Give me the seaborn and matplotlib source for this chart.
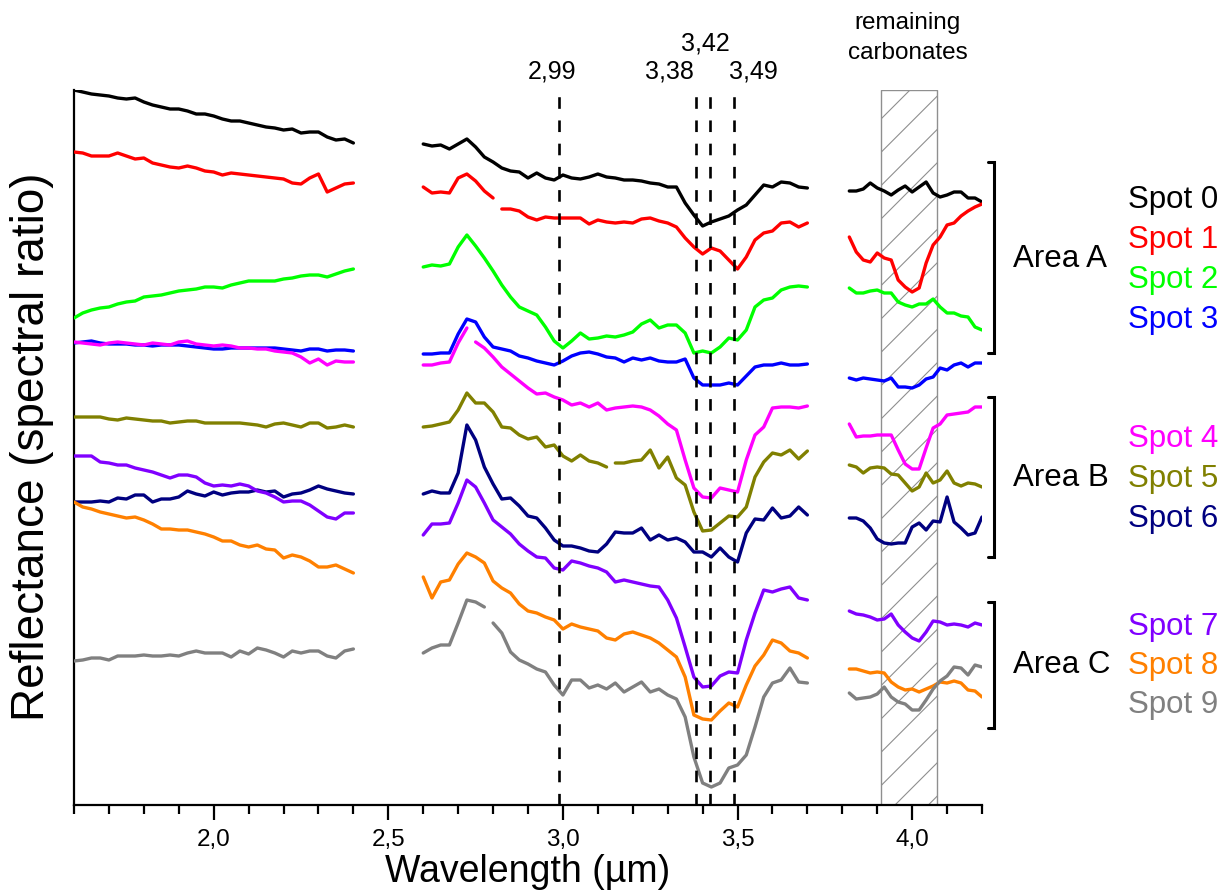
import numpy as np
import pandas as pd
import matplotlib
matplotlib.use("Agg")
import matplotlib.pyplot as plt
from matplotlib.lines import Line2D
from matplotlib.ticker import MultipleLocator, FixedLocator, FixedFormatter
import seaborn as sns

sns.set_theme(style="white")
plt.rcParams['font.family'] = ['Liberation Sans', 'DejaVu Sans']
plt.rcParams['hatch.linewidth'] = 0.8

# ---------------- data ----------------
W_LEFT = np.round(np.linspace(1.60, 2.40, 33), 3)
W_MID = np.round(np.linspace(2.60, 3.70, 45), 3)
W_RIGHT = np.round(np.linspace(3.82, 4.20, 20), 3)

SPOTS = ["Spot 0", "Spot 1", "Spot 2", "Spot 3", "Spot 4",
         "Spot 5", "Spot 6", "Spot 7", "Spot 8", "Spot 9"]
COLORS = ["#000000", "#ff0000", "#00ff00", "#0000ff", "#ff00ff",
          "#808000", "#000080", "#8000ff", "#ff8000", "#808080"]

spot0_left = [7.15,7.13,7.11,7.10,7.09,7.07,7.06,7.07,7.03,7.00,6.98,6.96,6.96,6.94,6.91,6.91,6.89,6.86,6.84,6.84,6.82,6.80,6.78,6.77,6.75,6.76,6.72,6.73,6.73,6.68,6.65,6.66,6.62]
spot1_left = [6.53,6.52,6.49,6.49,6.49,6.52,6.49,6.46,6.47,6.42,6.40,6.38,6.37,6.39,6.37,6.34,6.33,6.30,6.32,6.31,6.30,6.29,6.28,6.27,6.26,6.22,6.21,6.27,6.31,6.13,6.17,6.21,6.22]
spot2_left = [4.87,4.92,4.95,4.97,4.98,5.01,5.03,5.04,5.08,5.09,5.10,5.12,5.14,5.15,5.16,5.18,5.18,5.17,5.20,5.22,5.24,5.24,5.24,5.24,5.26,5.27,5.29,5.30,5.30,5.28,5.31,5.34,5.36]
spot3_left = [4.62,4.63,4.64,4.62,4.61,4.61,4.61,4.60,4.60,4.59,4.60,4.60,4.60,4.59,4.58,4.57,4.56,4.56,4.57,4.57,4.57,4.57,4.57,4.57,4.56,4.55,4.54,4.56,4.56,4.54,4.55,4.55,4.54]
spot4_left = [4.63,4.62,4.61,4.60,4.62,4.63,4.62,4.61,4.60,4.62,4.61,4.60,4.63,4.64,4.61,4.60,4.59,4.60,4.59,4.57,4.57,4.56,4.56,4.54,4.53,4.52,4.48,4.42,4.46,4.40,4.44,4.43,4.43]
spot5_left = [3.88,3.88,3.88,3.88,3.86,3.85,3.87,3.86,3.85,3.84,3.84,3.82,3.83,3.84,3.84,3.82,3.82,3.82,3.82,3.82,3.81,3.80,3.78,3.81,3.82,3.80,3.78,3.82,3.82,3.77,3.78,3.80,3.78]
spot6_left = [3.03,3.03,3.03,3.04,3.03,3.07,3.06,3.10,3.10,3.03,3.06,3.06,3.08,3.14,3.11,3.09,3.13,3.10,3.12,3.13,3.13,3.15,3.13,3.14,3.08,3.11,3.12,3.15,3.19,3.16,3.14,3.12,3.11]
spot7_left = [3.49,3.49,3.49,3.43,3.42,3.40,3.40,3.37,3.35,3.33,3.30,3.27,3.30,3.30,3.28,3.22,3.19,3.20,3.19,3.21,3.19,3.14,3.12,3.08,3.03,3.04,3.04,3.00,2.94,2.88,2.86,2.92,2.92]
spot8_left = [3.03,2.98,2.96,2.93,2.91,2.89,2.87,2.88,2.85,2.81,2.76,2.76,2.75,2.75,2.73,2.71,2.68,2.64,2.64,2.60,2.58,2.60,2.56,2.55,2.47,2.50,2.48,2.44,2.38,2.38,2.40,2.36,2.32]
spot9_left = [1.44,1.45,1.47,1.47,1.45,1.49,1.49,1.49,1.50,1.49,1.49,1.50,1.49,1.52,1.54,1.52,1.52,1.52,1.48,1.54,1.51,1.57,1.55,1.52,1.48,1.54,1.52,1.54,1.54,1.49,1.47,1.54,1.56]

spot0_mid = [6.61,6.59,6.60,6.56,6.61,6.66,6.58,6.48,6.43,6.37,6.34,6.33,6.27,6.32,6.27,6.25,6.30,6.27,6.26,6.28,6.31,6.28,6.27,6.25,6.25,6.24,6.22,6.21,6.18,6.18,6.02,5.90,5.79,5.83,5.86,5.89,5.95,6.00,6.10,6.20,6.18,6.23,6.22,6.18,6.17]
spot1_mid = [6.18,6.12,6.13,6.12,6.27,6.31,6.24,6.14,6.07,5.96,5.96,5.94,5.88,5.85,5.88,5.87,5.87,5.87,5.87,5.81,5.85,5.83,5.82,5.83,5.82,5.86,5.87,5.84,5.82,5.78,5.67,5.58,5.51,5.57,5.54,5.45,5.36,5.48,5.65,5.72,5.74,5.82,5.83,5.78,5.82]
spot2_mid = [5.38,5.40,5.39,5.41,5.58,5.70,5.59,5.47,5.34,5.20,5.08,4.98,4.94,4.90,4.78,4.64,4.57,4.64,4.72,4.66,4.67,4.69,4.68,4.70,4.73,4.81,4.85,4.77,4.80,4.80,4.72,4.52,4.54,4.52,4.58,4.67,4.65,4.75,4.98,5.05,5.07,5.15,5.18,5.19,5.18]
spot3_mid = [4.51,4.51,4.52,4.52,4.71,4.86,4.83,4.68,4.58,4.56,4.54,4.49,4.47,4.44,4.42,4.40,4.44,4.49,4.52,4.53,4.51,4.48,4.47,4.43,4.47,4.45,4.47,4.44,4.43,4.43,4.46,4.27,4.20,4.20,4.20,4.22,4.20,4.29,4.38,4.40,4.40,4.42,4.40,4.40,4.41]
spot4_mid = [4.40,4.40,4.42,4.43,4.62,4.77,4.63,4.57,4.48,4.38,4.31,4.24,4.17,4.11,4.12,4.08,4.05,4.00,4.02,3.98,4.02,3.95,3.97,3.98,3.99,3.98,3.95,3.89,3.81,3.75,3.45,3.17,3.08,3.07,3.17,3.15,3.13,3.45,3.70,3.78,3.97,3.98,3.98,3.97,3.99]
spot5_mid = [3.78,3.79,3.81,3.83,3.95,4.12,4.02,4.02,3.93,3.78,3.77,3.70,3.66,3.68,3.58,3.60,3.49,3.44,3.50,3.44,3.42,3.38,3.42,3.42,3.44,3.45,3.55,3.37,3.48,3.27,3.20,2.93,2.74,2.75,2.82,2.89,2.88,2.98,3.28,3.43,3.52,3.50,3.55,3.46,3.54]
spot6_mid = [3.11,3.14,3.12,3.12,3.32,3.80,3.65,3.38,3.21,3.06,3.07,2.99,2.89,2.87,2.77,2.65,2.59,2.59,2.57,2.54,2.53,2.61,2.73,2.72,2.72,2.77,2.65,2.70,2.65,2.67,2.63,2.53,2.53,2.48,2.57,2.48,2.43,2.72,2.86,2.85,2.97,2.87,2.89,2.98,2.90]
spot7_mid = [2.70,2.81,2.81,2.82,3.02,3.25,3.18,3.02,2.85,2.78,2.71,2.61,2.54,2.48,2.47,2.37,2.35,2.44,2.42,2.39,2.37,2.33,2.23,2.25,2.23,2.21,2.19,2.18,2.05,1.87,1.58,1.28,1.18,1.19,1.29,1.33,1.32,1.65,1.92,2.15,2.13,2.16,2.18,2.07,2.05]
spot8_mid = [2.28,2.07,2.23,2.25,2.41,2.52,2.48,2.42,2.24,2.17,2.12,2.01,1.94,1.92,1.88,1.85,1.76,1.81,1.78,1.76,1.74,1.67,1.65,1.71,1.73,1.70,1.67,1.62,1.55,1.48,1.28,0.90,0.86,0.85,0.94,1.02,0.98,1.20,1.39,1.50,1.65,1.62,1.54,1.52,1.47]
spot9_mid = [1.52,1.57,1.60,1.60,1.82,2.05,2.03,1.98,1.82,1.72,1.53,1.45,1.41,1.36,1.33,1.20,1.10,1.25,1.25,1.17,1.20,1.16,1.22,1.13,1.18,1.23,1.13,1.16,1.10,1.06,0.88,0.48,0.22,0.18,0.22,0.37,0.40,0.50,0.78,1.08,1.22,1.25,1.37,1.23,1.22]

spot0_right = [6.14,6.14,6.16,6.22,6.17,6.14,6.10,6.15,6.19,6.13,6.18,6.23,6.12,6.08,6.10,6.13,6.13,6.07,6.07,6.03]
spot1_right = [5.68,5.53,5.45,5.43,5.52,5.47,5.45,5.25,5.18,5.13,5.17,5.42,5.60,5.68,5.80,5.82,5.89,5.94,5.98,6.01]
spot2_right = [5.17,5.12,5.12,5.14,5.15,5.12,5.12,5.03,5.00,4.98,5.01,5.01,5.06,4.98,4.92,4.92,4.89,4.88,4.78,4.75]
spot3_right = [4.27,4.25,4.27,4.26,4.25,4.24,4.27,4.18,4.18,4.17,4.20,4.26,4.28,4.37,4.35,4.40,4.42,4.38,4.42,4.42]
spot4_right = [3.81,3.68,3.69,3.69,3.70,3.70,3.70,3.55,3.41,3.36,3.36,3.57,3.77,3.81,3.90,3.91,3.92,3.93,3.98,3.98]
spot5_right = [3.40,3.38,3.32,3.37,3.38,3.37,3.31,3.30,3.22,3.14,3.18,3.32,3.22,3.25,3.34,3.22,3.19,3.22,3.21,3.18]
spot6_right = [2.87,2.87,2.84,2.77,2.66,2.62,2.61,2.62,2.62,2.78,2.82,2.75,2.84,2.83,3.08,2.83,2.77,2.70,2.72,2.88]
spot7_right = [1.94,1.91,1.90,1.88,1.85,1.86,1.91,1.80,1.73,1.67,1.64,1.73,1.84,1.83,1.80,1.81,1.80,1.78,1.82,1.80]
spot8_right = [1.36,1.36,1.34,1.32,1.33,1.32,1.23,1.18,1.15,1.16,1.13,1.16,1.19,1.23,1.22,1.24,1.22,1.15,1.14,1.08]
spot9_right = [1.12,1.06,1.07,1.08,1.11,1.18,1.08,1.03,1.01,0.95,0.95,1.05,1.16,1.24,1.29,1.38,1.37,1.30,1.40,1.38]

# gaps inside the middle segment (wavelength where the trace is interrupted)
MID_BREAKS = {"Spot 1": 2.81, "Spot 4": 2.735, "Spot 5": 3.1375, "Spot 9": 2.785}

BAND_LINES = [2.99, 3.38, 3.42, 3.49]
BAND_LABELS = ["2,99", "3,38", "3,42", "3,49"]
CARBONATE_RANGE = (3.912, 4.070)
XTICKS = [2.0, 2.5, 3.0, 3.5, 4.0]
XTICK_LABELS = ["2,0", "2,5", "3,0", "3,5", "4,0"]
AREAS = ["Area A", "Area B", "Area C"]

LEFTS = [spot0_left, spot1_left, spot2_left, spot3_left, spot4_left,
         spot5_left, spot6_left, spot7_left, spot8_left, spot9_left]
MIDS = [spot0_mid, spot1_mid, spot2_mid, spot3_mid, spot4_mid,
        spot5_mid, spot6_mid, spot7_mid, spot8_mid, spot9_mid]
RIGHTS = [spot0_right, spot1_right, spot2_right, spot3_right, spot4_right,
          spot5_right, spot6_right, spot7_right, spot8_right, spot9_right]

# ---------------- long table ----------------
rows = []
for name, lv, mv, rv in zip(SPOTS, LEFTS, MIDS, RIGHTS):
    for w, r in zip(W_LEFT, lv):
        rows.append((name, f"{name}-L", w, r))
    brk = MID_BREAKS.get(name)
    for w, r in zip(W_MID, mv):
        part = "M1" if (brk is not None and w > brk) else "M0"
        rows.append((name, f"{name}-{part}", w, r))
    for w, r in zip(W_RIGHT, rv):
        rows.append((name, f"{name}-R", w, r))
df = pd.DataFrame(rows, columns=["spot", "piece", "wavelength", "reflectance"])
palette = dict(zip(SPOTS, COLORS))

# ---------------- figure ----------------
FW, FH = 1231, 894
fig = plt.figure(figsize=(FW / 100, FH / 100), dpi=100)
ax = fig.add_axes([74 / FW, 1 - 805 / FH, (982 - 74) / FW, (805 - 90) / FH])

def fx(px):
    return px / FW

def fy(py):
    return 1 - py / FH

# hatched "remaining carbonates" band
ax.axvspan(*CARBONATE_RANGE, facecolor="none", edgecolor="#8f8f8f",
           hatch="/", linewidth=1.0, zorder=1)

sns.lineplot(data=df, x="wavelength", y="reflectance", hue="spot",
             units="piece", estimator=None, palette=palette,
             hue_order=SPOTS, linewidth=2.4, legend=False, ax=ax, zorder=3)
for ln in ax.get_lines():
    ln.set_solid_joinstyle("round")
    ln.set_solid_capstyle("round")

# dashed band markers
ax.vlines(BAND_LINES, 0, 7.12, colors="black", linewidth=1.9,
          linestyles=(0, (4.4, 4.4)), zorder=4)

ax.set_xlim(1.6, 4.2)
ax.set_ylim(0, 7.15)
ax.set_xlabel("")
ax.set_ylabel("")
ax.set_yticks([])
ax.xaxis.set_major_locator(FixedLocator(XTICKS))
ax.xaxis.set_major_formatter(FixedFormatter(XTICK_LABELS))
ax.xaxis.set_minor_locator(MultipleLocator(0.1))
ax.tick_params(axis="x", which="both", bottom=True, direction="out",
               color="black", width=1.6)
ax.tick_params(axis="x", which="major", length=11, labelsize=17.5, pad=6,
               labelcolor="black")
ax.tick_params(axis="x", which="minor", length=6.5)
for s in ["top", "right"]:
    ax.spines[s].set_visible(False)
for s in ["left", "bottom"]:
    ax.spines[s].set_color("black")
    ax.spines[s].set_linewidth(1.6)

# axis titles
fig.text(fx(528), fy(882), "Wavelength (µm)", fontsize=27, ha="center",
         va="baseline", color="black")
fig.text(fx(32), fy(447), "Reflectance (spectral ratio)", fontsize=33,
         ha="center", va="center", rotation=90, color="black")

# band labels
band_pos = [(552, 78.5), (669, 78.5), (705, 51), (753, 78.5)]
for lab, (px, py) in zip(BAND_LABELS, band_pos):
    fig.text(fx(px), fy(py), lab, fontsize=18, ha="center", va="baseline",
             color="black")

fig.text(fx(908), fy(29), "remaining", fontsize=17.5, ha="center",
         va="baseline", color="black")
fig.text(fx(908), fy(59), "carbonates", fontsize=17.5, ha="center",
         va="baseline", color="black")

# brackets and area labels
brackets = [(161.7, 353), (396.7, 556.7), (601.7, 728.3)]
area_base = [266.7, 486.0, 673.3]
for (top, bot), lab, base in zip(brackets, AREAS, area_base):
    fig.add_artist(Line2D([fx(988), fx(993.5), fx(993.5), fx(988)],
                          [fy(top), fy(top), fy(bot), fy(bot)],
                          transform=fig.transFigure, color="black",
                          linewidth=2.2, solid_joinstyle="miter"))
    fig.text(fx(1013), fy(base), lab, fontsize=22.5, ha="left",
             va="baseline", color="black")

spot_base = [208.3, 248.3, 288.3, 328.3, 446.7, 486.7, 526.7, 635, 674, 712.7]
for name, col, base in zip(SPOTS, COLORS, spot_base):
    fig.text(fx(1128), fy(base), name, fontsize=22.5, ha="left",
             va="baseline", color=col)

fig.savefig("out.png", dpi=100)
